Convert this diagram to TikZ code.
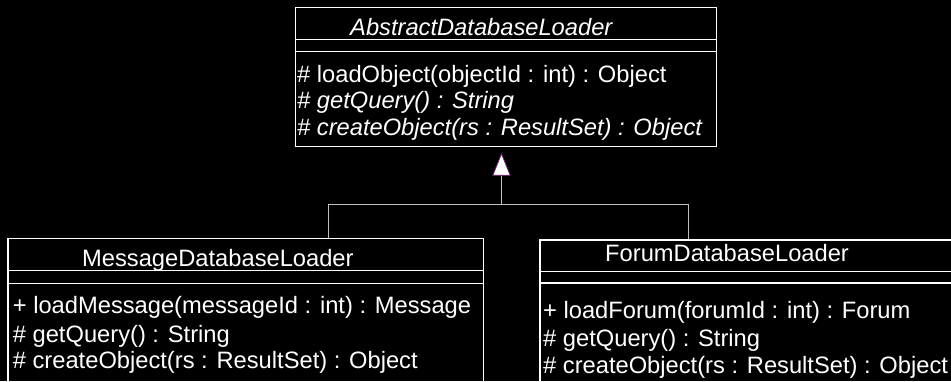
\documentclass[tikz,border=0pt]{standalone}
\usepackage{fontspec}
\setmainfont{Liberation Sans}
\usetikzlibrary{arrows.meta}
\definecolor{linegray}{HTML}{C0C0C0}
\definecolor{tipedge}{HTML}{6A1B6A}
\tikzset{
  classbox/.style={draw=white, line width=1.2pt, rectangle, inner sep=0pt, anchor=north west},
  divider/.style={draw=white, line width=1.2pt},
  conn/.style={draw=linegray, line width=1pt},
  txt/.style={text=white, inner sep=0pt, anchor=base west, font=\fontsize{23.7}{27}\selectfont},
  itxt/.style={txt, font=\fontsize{23.7}{27}\selectfont\itshape}
}
\begin{document}
\begin{tikzpicture}[x=1pt,y=-1pt]
\fill[black] (0,0) rectangle (951,381);
\useasboundingbox (0,0) rectangle (951,381);
\clip (0,0) rectangle (951,381);

% boxes
\node[classbox, minimum width=421pt, minimum height=139pt] (abs) at (294.7,6.7) {};
\node[classbox, minimum width=475.4pt, minimum height=200pt] (msg) at (7.3,237.7) {};
\node[classbox, minimum width=450pt, minimum height=200pt] (frm) at (539.3,239.3) {};

% dividers
\draw[divider] (abs.north west) ++(0,32.8) -- ++(421,0);
\draw[divider] (abs.north west) ++(0,45) -- ++(421,0);
\draw[divider] (msg.north west) ++(0,33) -- ++(475.4,0);
\draw[divider] (msg.north west) ++(0,45.6) -- ++(475.4,0);
\draw[divider] (frm.north west) ++(0,32.2) -- ++(450,0);
\draw[divider] (frm.north west) ++(0,43.7) -- ++(450,0);

% texts
\node[itxt] (absname) at (350,35) {AbstractDatabaseLoader};
\node[txt] (absm1) at (297,82) {\# loadObject(objectId : int) : Object};
\node[itxt] (absm2) at (297,108.7) {\# getQuery() : String};
\node[itxt] (absm3) at (297,135.3) {\# createObject(rs : ResultSet) : Object};

\node[txt] (msgname) at (82,266.7) {MessageDatabaseLoader};
\node[txt] (msgm1) at (12.7,313) {+ loadMessage(messageId : int) : Message};
\node[txt] (msgm2) at (12.7,342) {\# getQuery() : String};
\node[txt] (msgm3) at (12.7,368.3) {\# createObject(rs : ResultSet) : Object};

\node[txt] (frmname) at (605,261.7) {ForumDatabaseLoader};
\node[txt] (frmm1) at (543,318.3) {+ loadForum(forumId : int) : Forum};
\node[txt] (frmm2) at (543,346.7) {\# getQuery() : String};
\node[txt] (frmm3) at (543,373.3) {\# createObject(rs : ResultSet) : Object};

% connectors
\coordinate (bar) at (501.5,204.5);
\coordinate (tip) at (501.5,152.7);
\coordinate (lft) at (328,237.7);
\coordinate (rgt) at (688,239.3);
\draw[conn] (lft) |- (bar) -| (rgt);
\draw[conn, -{Triangle[length=23pt,width=18.4pt,fill=white,color=tipedge,line width=0.8pt]}] (bar) -- (tip);
\end{tikzpicture}
\end{document}
